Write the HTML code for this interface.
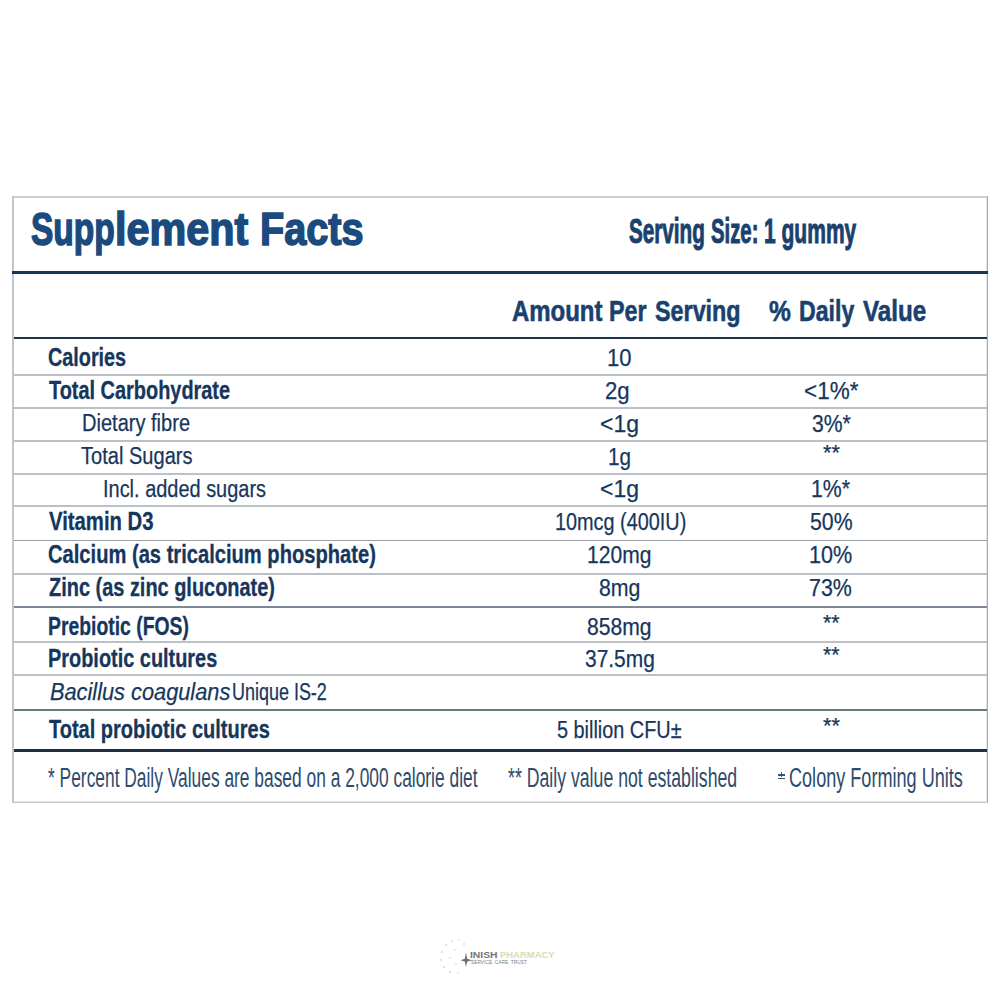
<!DOCTYPE html>
<html><head><meta charset="utf-8"><title>Supplement Facts</title>
<style>
html,body{margin:0;padding:0;background:#fff;}
body{width:1000px;height:1000px;position:relative;overflow:hidden;font-family:"Liberation Sans", sans-serif;}
.t{position:absolute;white-space:nowrap;transform-origin:0 0;}
.ln{position:absolute;}
</style></head><body>

<div class="ln" style="left:12px;top:196px;width:976px;height:2px;background:#cbcfd2;"></div>
<div class="ln" style="left:12px;top:196px;width:2px;height:607px;background:#c2c6ca;"></div>
<div class="ln" style="left:987px;top:196px;width:1px;height:607px;background:#a8adb1;"></div>
<div class="ln" style="left:986px;top:198px;width:1px;height:604px;background:#e3e6e8;"></div>
<div class="ln" style="left:12px;top:802px;width:976px;height:1px;background:#c3c7cb;"></div>
<div class="ln" style="left:14px;top:801px;width:972px;height:1px;background:#e4e7e9;"></div>
<div class="ln" style="left:12px;top:271px;width:976px;height:3px;background:#173758;"></div>
<div class="ln" style="left:14px;top:337px;width:973px;height:2px;background:#1e3350;"></div>
<div class="ln" style="left:14px;top:374px;width:973px;height:2px;background:#bcc1c6;"></div>
<div class="ln" style="left:14px;top:407px;width:973px;height:2px;background:#bcc1c6;"></div>
<div class="ln" style="left:14px;top:440px;width:973px;height:2px;background:#bcc1c6;"></div>
<div class="ln" style="left:14px;top:473px;width:973px;height:2px;background:#bcc1c6;"></div>
<div class="ln" style="left:14px;top:505px;width:973px;height:2px;background:#bcc1c6;"></div>
<div class="ln" style="left:14px;top:540px;width:973px;height:1px;background:#9a9fa3;"></div>
<div class="ln" style="left:14px;top:573px;width:973px;height:2px;background:#bcc1c6;"></div>
<div class="ln" style="left:14px;top:606px;width:973px;height:2px;background:#7d8896;"></div>
<div class="ln" style="left:14px;top:641px;width:973px;height:2px;background:#bcc1c6;"></div>
<div class="ln" style="left:14px;top:674px;width:973px;height:2px;background:#bcc1c6;"></div>
<div class="ln" style="left:14px;top:709px;width:973px;height:2px;background:#687a7c;"></div>
<div class="ln" style="left:14px;top:749px;width:973px;height:3px;background:#1f2d45;"></div>
<div class="t" style="left:30.64px;top:204.50px;font-size:47.09px;line-height:47.09px;font-weight:bold;font-style:normal;color:#1b4a7e;-webkit-text-stroke:1.6px #1b4a7e;transform:scaleX(0.7121)">Supp</div>
<div class="t" style="left:115.31px;top:204.50px;font-size:47.09px;line-height:47.09px;font-weight:bold;font-style:normal;color:#1b4a7e;-webkit-text-stroke:1.6px #1b4a7e;transform:scaleX(0.8776)">lement</div>
<div class="t" style="left:260.40px;top:204.50px;font-size:47.09px;line-height:47.09px;font-weight:bold;font-style:normal;color:#1b4a7e;-webkit-text-stroke:1.6px #1b4a7e;transform:scaleX(0.8427)">Facts</div>
<div class="t" style="left:628.71px;top:213.55px;font-size:35.61px;line-height:35.61px;font-weight:bold;font-style:normal;color:#1a416d;-webkit-text-stroke:1.0px #1a416d;transform:scaleX(0.5809)">Serving</div>
<div class="t" style="left:710.71px;top:213.55px;font-size:35.61px;line-height:35.61px;font-weight:bold;font-style:normal;color:#1a416d;-webkit-text-stroke:1.0px #1a416d;transform:scaleX(0.5705)">Size:</div>
<div class="t" style="left:764.47px;top:213.55px;font-size:35.61px;line-height:35.61px;font-weight:bold;font-style:normal;color:#1a416d;-webkit-text-stroke:1.0px #1a416d;transform:scaleX(0.5903)">1 gummy</div>
<div class="t" style="left:512.40px;top:295.65px;font-size:30.09px;line-height:30.09px;font-weight:bold;font-style:normal;color:#1a416d;-webkit-text-stroke:0.6px #1a416d;transform:scaleX(0.7965)">Amount</div>
<div class="t" style="left:609.25px;top:295.65px;font-size:30.09px;line-height:30.09px;font-weight:bold;font-style:normal;color:#1a416d;-webkit-text-stroke:0.6px #1a416d;transform:scaleX(0.7742)">Per</div>
<div class="t" style="left:654.61px;top:295.65px;font-size:30.09px;line-height:30.09px;font-weight:bold;font-style:normal;color:#1a416d;-webkit-text-stroke:0.6px #1a416d;transform:scaleX(0.7759)">Serving</div>
<div class="t" style="left:769.39px;top:295.65px;font-size:30.09px;line-height:30.09px;font-weight:bold;font-style:normal;color:#1a416d;-webkit-text-stroke:0.6px #1a416d;transform:scaleX(0.8155)">%</div>
<div class="t" style="left:799.05px;top:295.65px;font-size:30.09px;line-height:30.09px;font-weight:bold;font-style:normal;color:#1a416d;-webkit-text-stroke:0.6px #1a416d;transform:scaleX(0.7687)">Daily</div>
<div class="t" style="left:863.00px;top:295.65px;font-size:30.09px;line-height:30.09px;font-weight:bold;font-style:normal;color:#1a416d;-webkit-text-stroke:0.6px #1a416d;transform:scaleX(0.8051)">Value</div>
<div class="t" style="left:48.23px;top:344.65px;font-size:25.73px;line-height:25.73px;font-weight:bold;font-style:normal;color:#16365c;-webkit-text-stroke:0.3px #16365c;transform:scaleX(0.7698)">Calories</div>
<div class="t" style="left:49.01px;top:377.60px;font-size:25.73px;line-height:25.73px;font-weight:bold;font-style:normal;color:#16365c;-webkit-text-stroke:0.3px #16365c;transform:scaleX(0.7742)">Total Carbohydrate</div>
<div class="t" style="left:81.57px;top:410.70px;font-size:24.64px;line-height:24.64px;font-weight:normal;font-style:normal;color:#16365c;-webkit-text-stroke:0.25px #16365c;transform:scaleX(0.8139)">Dietary fibre</div>
<div class="t" style="left:81.19px;top:443.55px;font-size:24.64px;line-height:24.64px;font-weight:normal;font-style:normal;color:#16365c;-webkit-text-stroke:0.25px #16365c;transform:scaleX(0.8148)">Total Sugars</div>
<div class="t" style="left:103.38px;top:476.55px;font-size:24.64px;line-height:24.64px;font-weight:normal;font-style:normal;color:#16365c;-webkit-text-stroke:0.25px #16365c;transform:scaleX(0.8101)">Incl. added sugars</div>
<div class="t" style="left:48.80px;top:508.60px;font-size:25.73px;line-height:25.73px;font-weight:bold;font-style:normal;color:#16365c;-webkit-text-stroke:0.3px #16365c;transform:scaleX(0.7894)">Vitamin D3</div>
<div class="t" style="left:48.22px;top:541.65px;font-size:25.73px;line-height:25.73px;font-weight:bold;font-style:normal;color:#16365c;-webkit-text-stroke:0.3px #16365c;transform:scaleX(0.7830)">Calcium (as tricalcium phosphate)</div>
<div class="t" style="left:48.61px;top:574.50px;font-size:25.73px;line-height:25.73px;font-weight:bold;font-style:normal;color:#16365c;-webkit-text-stroke:0.3px #16365c;transform:scaleX(0.7752)">Zinc (as zinc gluconate)</div>
<div class="t" style="left:48.47px;top:613.55px;font-size:25.73px;line-height:25.73px;font-weight:bold;font-style:normal;color:#16365c;-webkit-text-stroke:0.3px #16365c;transform:scaleX(0.7528)">Prebiotic (FOS)</div>
<div class="t" style="left:48.44px;top:645.55px;font-size:25.73px;line-height:25.73px;font-weight:bold;font-style:normal;color:#16365c;-webkit-text-stroke:0.3px #16365c;transform:scaleX(0.7741)">Probiotic cultures</div>
<div class="t" style="left:49.74px;top:679.65px;font-size:24.64px;line-height:24.64px;font-weight:normal;font-style:italic;color:#16365c;-webkit-text-stroke:0.25px #16365c;transform:scaleX(0.8838)">Bacillus coagulans</div>
<div class="t" style="left:232.32px;top:679.65px;font-size:24.64px;line-height:24.64px;font-weight:normal;font-style:normal;color:#16365c;-webkit-text-stroke:0.25px #16365c;transform:scaleX(0.7293)">Unique IS-2</div>
<div class="t" style="left:49.41px;top:716.50px;font-size:25.73px;line-height:25.73px;font-weight:bold;font-style:normal;color:#16365c;-webkit-text-stroke:0.3px #16365c;transform:scaleX(0.7777)">Total probiotic cultures</div>
<div class="t" style="left:607.34px;top:345.65px;font-size:24.64px;line-height:24.64px;font-weight:normal;font-style:normal;color:#16365c;-webkit-text-stroke:0.25px #16365c;transform:scaleX(0.8929)">10</div>
<div class="t" style="left:604.60px;top:378.60px;font-size:24.64px;line-height:24.64px;font-weight:normal;font-style:normal;color:#16365c;-webkit-text-stroke:0.25px #16365c;transform:scaleX(0.9000)">2g</div>
<div class="t" style="left:600.27px;top:411.55px;font-size:24.64px;line-height:24.64px;font-weight:normal;font-style:normal;color:#16365c;-webkit-text-stroke:0.25px #16365c;transform:scaleX(0.9325)">&lt;1g</div>
<div class="t" style="left:608.23px;top:444.55px;font-size:24.64px;line-height:24.64px;font-weight:normal;font-style:normal;color:#16365c;-webkit-text-stroke:0.25px #16365c;transform:scaleX(0.8412)">1g</div>
<div class="t" style="left:600.27px;top:476.65px;font-size:24.64px;line-height:24.64px;font-weight:normal;font-style:normal;color:#16365c;-webkit-text-stroke:0.25px #16365c;transform:scaleX(0.9325)">&lt;1g</div>
<div class="t" style="left:554.59px;top:509.60px;font-size:24.64px;line-height:24.64px;font-weight:normal;font-style:normal;color:#16365c;-webkit-text-stroke:0.25px #16365c;transform:scaleX(0.8063)">10mcg (400IU)</div>
<div class="t" style="left:587.30px;top:542.65px;font-size:24.64px;line-height:24.64px;font-weight:normal;font-style:normal;color:#16365c;-webkit-text-stroke:0.25px #16365c;transform:scaleX(0.8556)">120mg</div>
<div class="t" style="left:598.63px;top:575.50px;font-size:24.64px;line-height:24.64px;font-weight:normal;font-style:normal;color:#16365c;-webkit-text-stroke:0.25px #16365c;transform:scaleX(0.8659)">8mg</div>
<div class="t" style="left:587.14px;top:614.55px;font-size:24.64px;line-height:24.64px;font-weight:normal;font-style:normal;color:#16365c;-webkit-text-stroke:0.25px #16365c;transform:scaleX(0.8577)">858mg</div>
<div class="t" style="left:584.96px;top:646.55px;font-size:24.64px;line-height:24.64px;font-weight:normal;font-style:normal;color:#16365c;-webkit-text-stroke:0.25px #16365c;transform:scaleX(0.8500)">37.5mg</div>
<div class="t" style="left:556.79px;top:717.50px;font-size:24.64px;line-height:24.64px;font-weight:normal;font-style:normal;color:#16365c;-webkit-text-stroke:0.25px #16365c;transform:scaleX(0.8065)">5 billion CFU±</div>
<div class="t" style="left:803.99px;top:378.60px;font-size:24.64px;line-height:24.64px;font-weight:normal;font-style:normal;color:#16365c;-webkit-text-stroke:0.25px #16365c;transform:scaleX(0.9133)">&lt;1%*</div>
<div class="t" style="left:811.56px;top:411.55px;font-size:24.64px;line-height:24.64px;font-weight:normal;font-style:normal;color:#16365c;-webkit-text-stroke:0.25px #16365c;transform:scaleX(0.8591)">3%*</div>
<div class="t" style="left:822.65px;top:442.60px;font-size:21.44px;line-height:21.44px;font-weight:normal;font-style:normal;color:#16365c;-webkit-text-stroke:0.25px #16365c;transform:scaleX(1.0092)">**</div>
<div class="t" style="left:811.39px;top:476.65px;font-size:24.64px;line-height:24.64px;font-weight:normal;font-style:normal;color:#16365c;-webkit-text-stroke:0.25px #16365c;transform:scaleX(0.8628)">1%*</div>
<div class="t" style="left:809.54px;top:509.60px;font-size:24.64px;line-height:24.64px;font-weight:normal;font-style:normal;color:#16365c;-webkit-text-stroke:0.25px #16365c;transform:scaleX(0.8632)">50%</div>
<div class="t" style="left:808.87px;top:542.65px;font-size:24.64px;line-height:24.64px;font-weight:normal;font-style:normal;color:#16365c;-webkit-text-stroke:0.25px #16365c;transform:scaleX(0.8770)">10%</div>
<div class="t" style="left:809.32px;top:575.50px;font-size:24.64px;line-height:24.64px;font-weight:normal;font-style:normal;color:#16365c;-webkit-text-stroke:0.25px #16365c;transform:scaleX(0.8677)">73%</div>
<div class="t" style="left:822.55px;top:612.70px;font-size:21.44px;line-height:21.44px;font-weight:normal;font-style:normal;color:#16365c;-webkit-text-stroke:0.25px #16365c;transform:scaleX(0.9969)">**</div>
<div class="t" style="left:822.55px;top:644.60px;font-size:21.44px;line-height:21.44px;font-weight:normal;font-style:normal;color:#16365c;-webkit-text-stroke:0.25px #16365c;transform:scaleX(0.9969)">**</div>
<div class="t" style="left:822.65px;top:715.50px;font-size:21.44px;line-height:21.44px;font-weight:normal;font-style:normal;color:#16365c;-webkit-text-stroke:0.25px #16365c;transform:scaleX(1.0092)">**</div>
<div class="t" style="left:47.69px;top:763.50px;font-size:27.62px;line-height:27.62px;font-weight:normal;font-style:normal;color:#2e4b6b;transform:scaleX(0.6293)">* Percent Daily Values are based on a 2,000 calorie diet</div>
<div class="t" style="left:508.43px;top:763.50px;font-size:27.62px;line-height:27.62px;font-weight:normal;font-style:normal;color:#2e4b6b;transform:scaleX(0.6408)">** Daily value not established</div>
<div class="t" style="left:788.62px;top:763.50px;font-size:27.62px;line-height:27.62px;font-weight:normal;font-style:normal;color:#2e4b6b;transform:scaleX(0.6551)">Colony Forming Units</div>
<div class="t" style="left:470.21px;top:950.65px;font-size:8.72px;line-height:8.72px;font-weight:bold;font-style:normal;color:#767676;transform:scaleX(1.1865)">INISH</div>
<div class="t" style="left:500.16px;top:950.65px;font-size:8.72px;line-height:8.72px;font-weight:bold;font-style:normal;color:#d3dfb0;transform:scaleX(1.0834)">PHARMACY</div>
<div class="t" style="left:471.15px;top:960.55px;font-size:4.80px;line-height:4.80px;font-weight:normal;font-style:normal;color:#808080;transform:scaleX(1.0072)">SERVICE. CARE. TRUST.</div>
<div class="ln" style="left:778px;top:774px;width:7px;height:1.5px;background:#3a5470"></div><div class="ln" style="left:780.8px;top:771.5px;width:1.5px;height:5px;background:#3a5470"></div><div class="ln" style="left:778px;top:777.5px;width:7px;height:1.5px;background:#3a5470"></div>
<svg style="position:absolute;left:436px;top:936px" width="40" height="40" viewBox="436 936 40 40">
<g fill="#e4e4e4"><circle cx="446" cy="945" r="1.2"/><circle cx="452" cy="941" r="1.2"/><circle cx="459" cy="940" r="1"/><circle cx="464" cy="944" r="1.2"/><circle cx="442" cy="952" r="1.2"/><circle cx="441" cy="960" r="1.2"/><circle cx="444" cy="967" r="1.2"/><circle cx="450" cy="972" r="1.2"/><circle cx="458" cy="973" r="1"/><circle cx="455" cy="950" r="1"/><circle cx="450" cy="958" r="1"/><circle cx="456" cy="964" r="1"/></g>
<path d="M466 952.5 L467.2 958.8 L472 960.2 L467.2 961.4 L466 967 L464.8 961.4 L460.5 960.2 L464.8 958.8 Z" fill="#6e6e6e"/>
</svg>
</body></html>
